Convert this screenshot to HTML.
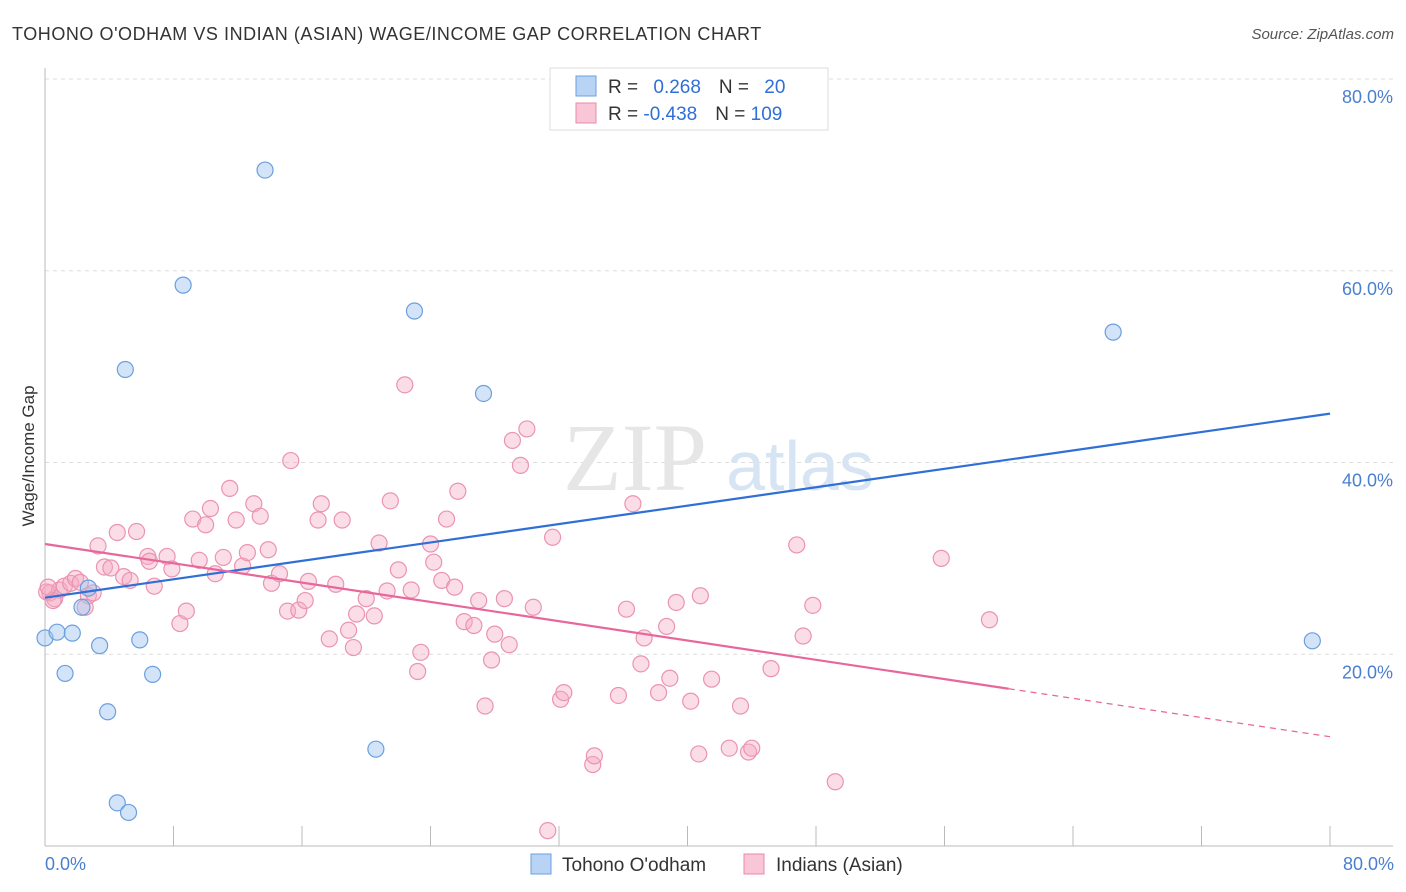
<!DOCTYPE html>
<html><head><meta charset="utf-8"><style>
body{margin:0;background:#fff;font-family:"Liberation Sans",sans-serif}
svg{display:block}
</style></head><body>
<svg width="1406" height="892" xmlns="http://www.w3.org/2000/svg">
<text x="12" y="40" font-size="18" fill="#333" letter-spacing="0.55">TOHONO O'ODHAM VS INDIAN (ASIAN) WAGE/INCOME GAP CORRELATION CHART</text>
<text x="1394" y="39" font-size="15" fill="#555" text-anchor="end" font-style="italic">Source: ZipAtlas.com</text>
<g id="grid"></g>
<g><text x="635" y="490" font-size="96" font-family="Liberation Serif,serif" fill="#e6e6e6" text-anchor="middle">ZIP</text><text x="800" y="490" font-size="70" fill="#d6e4f4" text-anchor="middle">atlas</text></g>
<g id="pts"></g>
<g id="lines"></g>
<text x="34" y="456" font-size="17" fill="#333" transform="rotate(-90 34 456)" text-anchor="middle">Wage/Income Gap</text>
<text x="45" y="870" font-size="18" fill="#4a7fd0">0.0%</text>
<text x="1394" y="870" font-size="18" fill="#4a7fd0" text-anchor="end">80.0%</text>
<g>
<rect x="550" y="68" width="278" height="62" fill="#fff" stroke="#ddd"/>
<rect x="576" y="76" width="20" height="20" fill="#b8d3f4" stroke="#6a9fe0"/>
<rect x="576" y="103" width="20" height="20" fill="#f8c6d6" stroke="#e88aa8"/>
<text x="608" y="93" font-size="19" fill="#333">R = <tspan fill="#2f6fd6" dx="10">0.268</tspan><tspan dx="18" fill="#333">N = </tspan><tspan fill="#2f6fd6" dx="10">20</tspan></text>
<text x="608" y="120" font-size="19" fill="#333">R = <tspan fill="#2f6fd6">-0.438</tspan><tspan dx="18" fill="#333">N = </tspan><tspan fill="#2f6fd6">109</tspan></text>
</g>
<g>
<rect x="531" y="854" width="20" height="20" fill="#b8d3f4" stroke="#6a9fe0"/>
<text x="562" y="871" font-size="19" fill="#333">Tohono O'odham</text>
<rect x="744" y="854" width="20" height="20" fill="#f8c6d6" stroke="#e88aa8"/>
<text x="776" y="871" font-size="19" fill="#333">Indians (Asian)</text>
</g>
</svg>
<script>
const yTicks=[20,40,60,80];
const yTickLabels=["20.0%","40.0%","60.0%","80.0%"];
const xTicks=[0,8,16,24,32,40,48,56,64,72,80];
const blueX=[0,0.75,1.7,1.25,2.3,2.7,3.4,3.9,4.5,5.2,5.0,5.9,6.7,8.6,13.7,20.6,23.0,27.3,66.5,78.9];
const blueY=[21.7,22.3,22.2,18.0,24.9,26.9,20.9,14.0,4.5,3.5,49.7,21.5,17.9,58.5,70.5,10.1,55.8,47.2,53.6,21.4];
const pinkX=[0.3,0.6,0.9,1.2,1.6,1.9,2.2,2.7,3.0,2.5,3.3,3.7,4.1,4.5,4.9,5.3,5.7,6.4,6.5,6.8,7.6,7.9,8.4,8.8,9.2,9.6,10.0,10.3,10.6,11.1,11.5,11.9,12.3,12.6,13.0,13.4,13.9,14.1,14.6,15.1,15.3,15.8,16.2,16.4,17.0,17.2,17.7,18.1,18.5,18.9,19.2,19.4,20.0,20.5,20.8,21.3,21.5,22.0,22.4,22.8,23.2,23.4,24.0,24.2,24.7,25.0,25.5,25.7,26.1,26.7,27.0,27.4,27.8,28.0,28.6,28.9,29.1,29.6,30.0,30.4,31.3,31.6,32.1,32.3,34.1,34.2,35.7,36.2,36.6,37.1,37.3,38.2,38.7,38.9,39.3,40.2,40.7,40.8,41.5,42.6,43.3,43.8,44.0,45.2,46.8,47.2,47.8,49.2,55.8,58.8,0.1,0.5,0.2];
const pinkY=[26.4,25.8,26.7,27.1,27.4,27.9,27.5,26.1,26.4,24.9,31.3,29.1,29.0,32.7,28.1,27.7,32.8,30.2,29.7,27.1,30.2,28.9,23.2,24.5,34.1,29.8,33.5,35.2,28.4,30.1,37.3,34.0,29.2,30.6,35.7,34.4,30.9,27.4,28.4,24.5,40.2,24.6,25.6,27.6,34.0,35.7,21.6,27.3,34.0,22.5,20.7,24.2,25.8,24.0,31.6,26.6,36.0,28.8,48.1,26.7,18.2,20.2,31.5,29.6,27.7,34.1,27.0,37.0,23.4,23.0,25.6,14.6,19.4,22.1,25.8,21.0,42.3,39.7,43.5,24.9,1.6,32.2,15.3,16.0,8.5,9.4,15.7,24.7,35.7,19.0,21.7,16.0,22.9,17.5,25.4,15.1,9.6,26.1,17.4,10.2,14.6,9.8,10.2,18.5,31.4,21.9,25.1,6.7,30.0,23.6,26.5,25.6,27.0];
const blueLine=[[0,25.9],[80,45.1]];
const pinkLine=[[0,31.5],[60,16.4]];
const pinkDash=[[60,16.4],[80,11.4]];
const NS="http://www.w3.org/2000/svg";
const X=v=>45+v*16.0625, Y=v=>846-v*9.5875;
function mk(t,a,p){const e=document.createElementNS(NS,t);for(const k in a)e.setAttribute(k,a[k]);p.appendChild(e);return e;}
const g=document.getElementById('grid');
yTicks.forEach((t,i)=>{
 const l=mk('line',{x1:45,x2:1393,y1:Y(t),y2:Y(t),stroke:'#ddd','stroke-dasharray':'4,4'},g);
 
 
 const tx=mk('text',{x:1393,y:Y(t)+24,'font-size':18,fill:'#4a7fd0','text-anchor':'end'},g);
 tx.textContent=yTickLabels[i];
 
 
});
mk('line',{x1:45,x2:1393,y1:Y(0),y2:Y(0),stroke:'#bbb'},g);
mk('line',{x1:45,x2:45,y1:68,y2:846,stroke:'#bbb'},g);
xTicks.forEach(t=>{const l=mk('line',{x1:X(t),x2:X(t),y1:826,y2:846,stroke:'#bbb'},g);
 
 });
const p=document.getElementById('pts');
pinkX.forEach((v,i)=>{const c=mk('circle',{cx:X(v),cy:Y(pinkY[i]),r:8,fill:'rgba(245,170,195,0.4)',stroke:'#eb93b0','stroke-width':1.2},p);
 
 });
blueX.forEach((v,i)=>{const c=mk('circle',{cx:X(v),cy:Y(blueY[i]),r:8,fill:'rgba(160,195,240,0.45)',stroke:'#6a9fe0','stroke-width':1.2},p);
 
 });
const L=document.getElementById('lines');
function ln(d,col,w,dash,name){const e=mk('line',{x1:X(d[0][0]),y1:Y(d[0][1]),x2:X(d[1][0]),y2:Y(d[1][1]),stroke:col,'stroke-width':w},L);if(dash)e.setAttribute('stroke-dasharray',dash);
 
 }
ln(blueLine,'#2f6fd6',2.2,null,'tohono-trendline');
ln(pinkLine,'#e8679a',2.2,null,'indian-asian-trendline');
ln(pinkDash,'#e8679a',1.2,'6,5','indian-asian-trendline-extension');
</script>
</body></html>
